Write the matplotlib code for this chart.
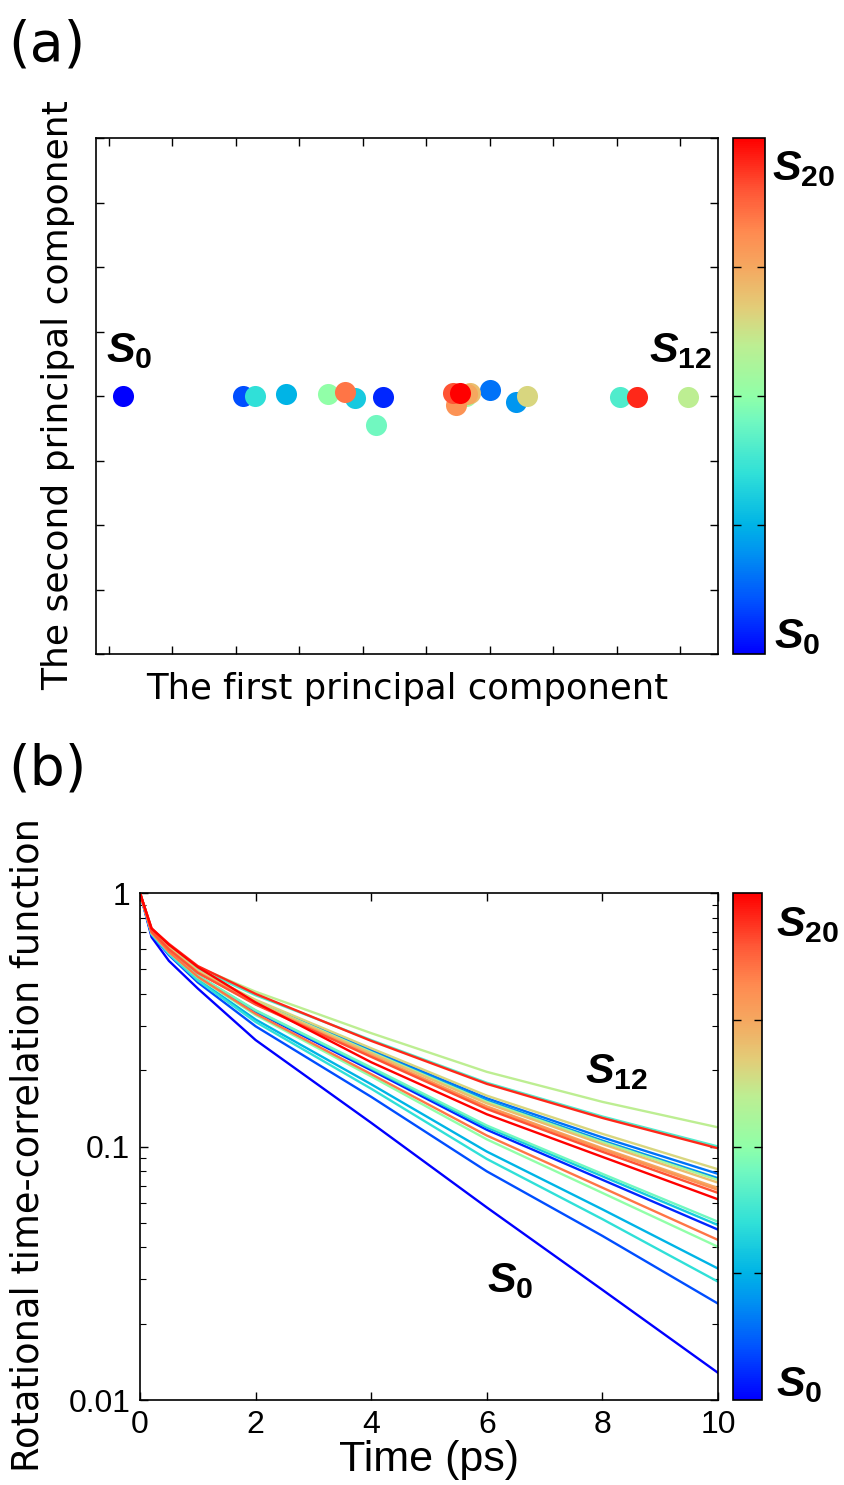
import matplotlib
matplotlib.use("Agg")
import matplotlib.pyplot as plt
import numpy as np
from matplotlib.colors import LinearSegmentedColormap, Normalize
from matplotlib.cm import ScalarMappable

plt.rcParams['mathtext.fontset'] = 'custom'
plt.rcParams['mathtext.it'] = 'Liberation Sans:italic:bold'
plt.rcParams['mathtext.bf'] = 'Liberation Sans:bold'
plt.rcParams['mathtext.rm'] = 'Liberation Sans:bold'

# state index (S0 ... S20) of each point / line
states = list(range(21))

# (a) PCA projection of each state
pc1 = [0.22, 4.32, 2.11, 6.01, 6.42, 2.79, 3.88, 2.30, 8.06, 4.21, 3.45,
       5.63, 9.12, 6.59, 5.69, 5.65, 5.47, 3.72, 5.43, 8.33, 5.54]
pc2 = [0.00, -0.02, 0.00, 0.09, -0.09, 0.03, -0.03, 0.00, -0.02, -0.45, 0.03,
       0.00, -0.02, 0.00, 0.05, 0.03, -0.14, 0.06, 0.05, -0.02, 0.05]

# (b) rotational time-correlation functions
time_ps = [0, 0.2, 0.5, 1, 2, 4, 6, 8, 10]
rtcf = [
    [1, 0.670, 0.540, 0.420, 0.263, 0.124, 0.0575, 0.0272, 0.0128],
    [1, 0.698, 0.589, 0.471, 0.340, 0.200, 0.1164, 0.0739, 0.0470],
    [1, 0.684, 0.569, 0.444, 0.298, 0.157, 0.0798, 0.0444, 0.0240],
    [1, 0.710, 0.605, 0.492, 0.376, 0.240, 0.155, 0.1086, 0.0780],
    [1, 0.709, 0.604, 0.490, 0.373, 0.237, 0.152, 0.1055, 0.0750],
    [1, 0.690, 0.578, 0.456, 0.317, 0.176, 0.0955, 0.0565, 0.0330],
    [1, 0.700, 0.590, 0.472, 0.343, 0.203, 0.119, 0.0763, 0.0490],
    [1, 0.688, 0.574, 0.452, 0.310, 0.169, 0.0893, 0.0517, 0.0293],
    [1, 0.715, 0.614, 0.503, 0.395, 0.263, 0.1784, 0.1313, 0.1000],
    [1, 0.700, 0.592, 0.473, 0.345, 0.205, 0.121, 0.0780, 0.0505],
    [1, 0.695, 0.584, 0.464, 0.330, 0.189, 0.1067, 0.0656, 0.0402],
    [1, 0.708, 0.604, 0.490, 0.372, 0.2355, 0.150, 0.1041, 0.0738],
    [1, 0.720, 0.620, 0.510, 0.408, 0.280, 0.197, 0.150, 0.119],
    [1, 0.711, 0.607, 0.494, 0.379, 0.244, 0.1587, 0.1122, 0.0813],
    [1, 0.708, 0.603, 0.489, 0.370, 0.2333, 0.148, 0.1022, 0.0720],
    [1, 0.707, 0.601, 0.486, 0.366, 0.229, 0.144, 0.0985, 0.0686],
    [1, 0.707, 0.601, 0.486, 0.365, 0.228, 0.143, 0.0973, 0.0674],
    [1, 0.697, 0.586, 0.467, 0.334, 0.193, 0.1105, 0.0688, 0.0428],
    [1, 0.706, 0.600, 0.484, 0.363, 0.2257, 0.1406, 0.0953, 0.0656],
    [1, 0.725, 0.630, 0.515, 0.400, 0.261, 0.1766, 0.1296, 0.0984],
    [1, 0.725, 0.625, 0.510, 0.370, 0.215, 0.134, 0.0910, 0.0619],
]

cmap = LinearSegmentedColormap.from_list("states", [
    (0.00, "#0000ff"), (0.10, "#0050ff"), (0.20, "#0096f0"),
    (0.25, "#00b4e6"), (0.35, "#30e0d8"), (0.45, "#70f8c0"),
    (0.50, "#90ffa8"), (0.60, "#bdee92"), (0.67, "#e2cd78"),
    (0.75, "#f5a860"), (0.82, "#ff8a50"), (0.90, "#ff5535"),
    (1.00, "#ff0000")])
norm = Normalize(0, 20)

W, H = 844, 1485
fig = plt.figure(figsize=(W / 100, H / 100), dpi=100)


def box(x0, y0, x1, y1):
    return [x0 / W, 1 - y1 / H, (x1 - x0) / W, (y1 - y0) / H]


def ftext(x, y, s, **kw):
    fig.text(x / W, 1 - y / H, s, **kw)


def style_cbar(cax):
    cb = fig.colorbar(ScalarMappable(norm=norm, cmap=cmap), cax=cax)
    cb.set_ticks([5, 10, 15])
    cb.ax.tick_params(direction='in', length=6, width=1, labelright=False,
                      left=True, right=True)
    cb.outline.set_linewidth(1.2)
    return cb


tick_kw = dict(direction='in', top=True, right=True, width=1, length=6)
arial = 'Liberation Sans'

# ---------- (a)
ax1 = fig.add_axes(box(96, 138, 718, 654))
for i in states:
    ax1.scatter(pc1[i], pc2[i], s=230, color=cmap(norm(i)), lw=0, zorder=2 + i)
ax1.set_xlim(-0.205, 9.6)
ax1.set_ylim(-4, 4)
ax1.set_xticks(range(10))
ax1.set_yticks(range(-4, 5))
ax1.tick_params(**tick_kw, labelbottom=False, labelleft=False)
for sp in ax1.spines.values():
    sp.set_linewidth(1.2)
style_cbar(fig.add_axes(box(733, 138, 765, 654)))

ftext(8, 45, "(a)", fontsize=40, va='center', ha='left')
ftext(407, 689, "The first principal component", fontsize=25.5,
      ha='center', va='center')
ftext(58, 395, "The second principal component", fontsize=26,
      ha='center', va='center', rotation=90)

lab = dict(fontsize=31, ha='left', va='baseline')
ftext(106, 362, r"$\mathit{S}_{\mathbf{0}}$", **lab)
ftext(649, 362, r"$\mathit{S}_{\mathbf{12}}$", **lab)
ftext(772, 180, r"$\mathit{S}_{\mathbf{20}}$", **lab)
ftext(774, 648, r"$\mathit{S}_{\mathbf{0}}$", **lab)

# ---------- (b)
ax2 = fig.add_axes(box(140, 893, 718, 1400))
for i in states:
    ax2.plot(time_ps, rtcf[i], color=cmap(norm(i)), lw=1.7)
ax2.set_yscale('log')
ax2.set_xlim(0, 10)
ax2.set_ylim(0.01, 1)
ax2.set_xticks(range(0, 11, 2))
ax2.set_yticks([0.01, 0.1, 1])
ax2.set_yticklabels(["0.01", "0.1", "1"])
ax2.tick_params(**tick_kw, labelsize=23, pad=7)
ax2.tick_params(which='minor', direction='in', right=True, length=4, width=0.8)
for lbl in ax2.get_xticklabels() + ax2.get_yticklabels():
    lbl.set_family(arial)
for sp in ax2.spines.values():
    sp.set_linewidth(1.2)
style_cbar(fig.add_axes(box(733, 893, 762, 1400)))

ftext(8, 770, "(b)", fontsize=40, va='center', ha='left')
ftext(429, 1460, "Time (ps)", fontsize=31, ha='center', va='center',
      family=arial)
ftext(28, 1145, "Rotational time-correlation function", fontsize=26.5,
      ha='center', va='center', rotation=90)

ftext(585, 1083, r"$\mathit{S}_{\mathbf{12}}$", **lab)
ftext(487, 1292, r"$\mathit{S}_{\mathbf{0}}$", **lab)
ftext(776, 936, r"$\mathit{S}_{\mathbf{20}}$", **lab)
ftext(776, 1396, r"$\mathit{S}_{\mathbf{0}}$", **lab)

fig.savefig("out.png", dpi=100)
